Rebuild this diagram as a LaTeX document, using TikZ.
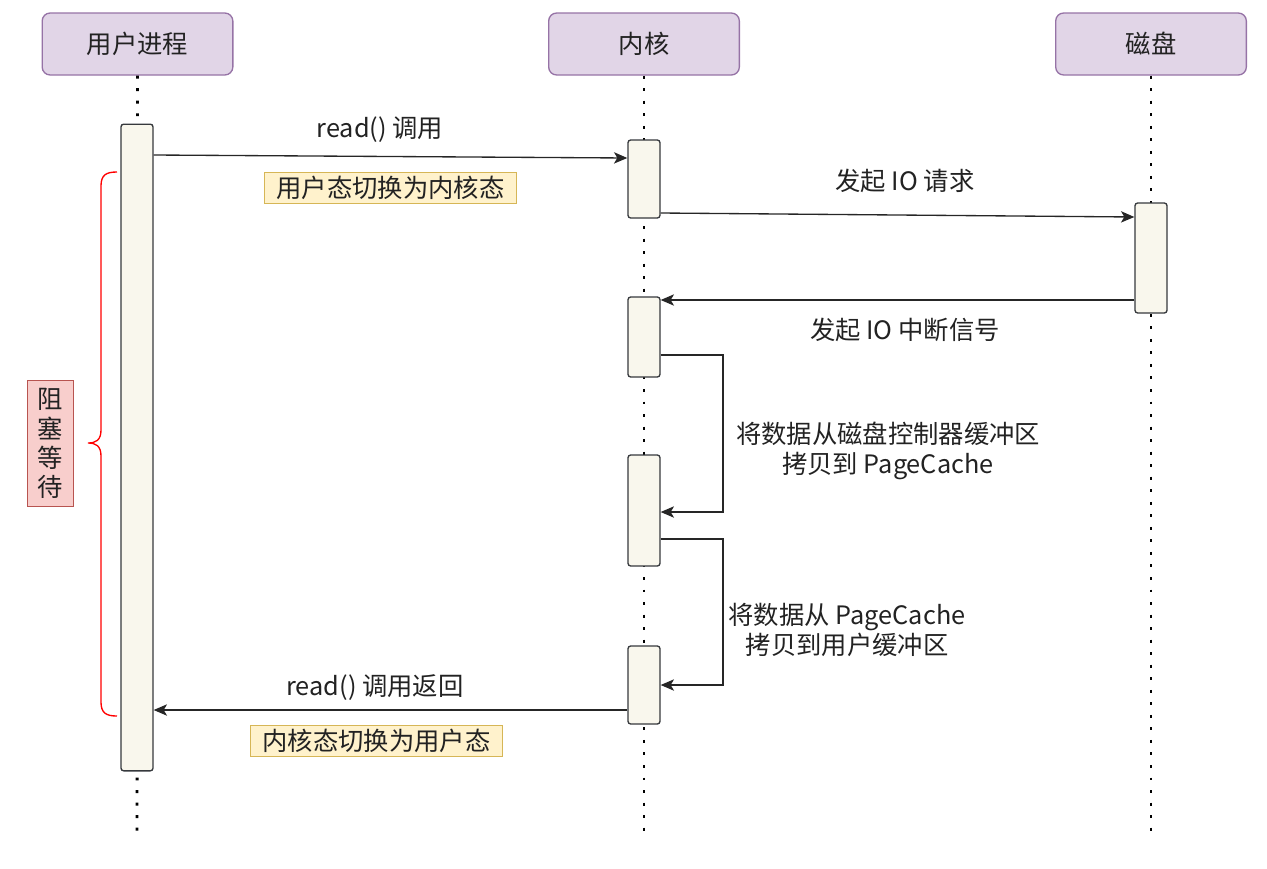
\documentclass[tikz,border=0pt]{standalone}
\usepackage{fontspec}
\setmainfont{Noto Sans CJK SC}
\usetikzlibrary{arrows.meta}

\definecolor{headfill}{RGB}{225,213,231}
\definecolor{headdraw}{RGB}{150,115,166}
\definecolor{barfill}{RGB}{249,247,237}
\definecolor{bardraw}{RGB}{54,57,61}
\definecolor{notefill}{RGB}{255,242,204}
\definecolor{notedraw}{RGB}{214,182,86}
\definecolor{waitfill}{RGB}{248,206,204}
\definecolor{waitdraw}{RGB}{184,84,80}
\definecolor{txt}{RGB}{34,34,34}

\tikzset{every picture/.style={line width=0.75pt}}
\tikzset{
  head/.style={draw=headdraw,fill=headfill,line width=1pt,rounded corners=6pt,minimum width=143pt,minimum height=46.5pt,text=txt},
  actbar/.style={draw=bardraw,fill=barfill,line width=1pt,rounded corners=2pt,minimum width=24pt,inner sep=0pt},
  lifeline/.style={draw=black,line width=2.2pt,dash pattern=on 2.2pt off 7.2pt},
  msg/.style={draw=black!85,line width=1pt,-{Stealth[length=10pt,width=8.5pt,inset=2.5pt]}},
  note/.style={draw=notedraw,fill=notefill,inner xsep=9pt,inner ysep=3pt,text=txt},
  lbl/.style={text=txt,align=center,inner sep=0.75pt}
}

\begin{document}
\begin{tikzpicture}[x=0.75pt,y=0.75pt,yscale=-1,xscale=1,font=\fontsize{19}{22}\selectfont]
\useasboundingbox (0,0) rectangle (1267,868); %set diagram as 1267 x 868

%Shape: Headers
\node[head] (user) at (137.5,44) {用户进程};
\node[head] (kernel) at (644,44) {内核};
\node[head] (disk) at (1151,44) {磁盘};

%Straight Lines: lifelines
\coordinate (uend) at (137,835);
\coordinate (kend) at (644,835);
\coordinate (dend) at (1151,835);
\draw[lifeline] (user.south) -- (uend);
\draw[lifeline] (kernel.south) -- (kend);
\draw[lifeline] (disk.south) -- (dend);

%Shape: Activation bars
\node[actbar,minimum height=485pt] (ubar) at (137,447.5) {};
\node[actbar,minimum height=58.5pt] (kbarA) at (644,179) {};
\node[actbar,minimum height=82.5pt] (dbar) at (1151,258) {};
\node[actbar,minimum height=60pt] (kbarB) at (644,337) {};
\node[actbar,minimum height=83.25pt] (kbarC) at (644,510.5) {};
\node[actbar,minimum height=58.5pt] (kbarD) at (644,685) {};

%Shape: Brace
\draw[red,line width=1pt] (117,172) .. controls (106,172) and (101,175) .. (101,186) -- (101,430) .. controls (101,440) and (96,443) .. (88,443) .. controls (96,443) and (101,446) .. (101,456) -- (101,702) .. controls (101,713) and (106,716) .. (117,716);

%Shape: Rectangle
\node[draw=waitdraw,fill=waitfill,minimum width=35pt,minimum height=95pt,text=txt,align=center,inner sep=0pt] (wait) at (50.5,443.5) {阻\\塞\\等\\待};

%Straight Lines: messages
\draw[msg] (ubar.east |- 0,155) -- (kbarA.west |- 0,158);
\draw[msg] (kbarA.east |- 0,213) -- (dbar.west |- 0,217);
\draw[msg] (dbar.west |- 0,300) -- (kbarB.east |- 0,300);
\draw[msg] (kbarB.east |- 0,355) -- (723,355) |- (kbarC.east |- 0,512);
\draw[msg] (kbarC.east |- 0,539) -- (723,539) |- (kbarD.east |- 0,685);
\draw[msg] (kbarD.west |- 0,710) -- (ubar.east |- 0,710);

% Text Node
\node[lbl] (callLbl) at (380,130) {read() 调用};
% Text Node
\node[note] (toKernel) at (390.5,188) {用户态切换为内核态};
% Text Node
\node[lbl] (reqLbl) at (905,181) {发起 IO 请求};
% Text Node
\node[lbl] (irqLbl) at (905,330) {发起 IO 中断信号};
% Text Node
\node[lbl] (copyA) at (888,451) {将数据从磁盘控制器缓冲区\\拷贝到 PageCache};
% Text Node
\node[lbl] (copyB) at (847,630) {将数据从 PageCache\\拷贝到用户缓冲区};
% Text Node
\node[lbl] (retLbl) at (375,688) {read() 调用返回};
% Text Node
\node[note] (toUser) at (376.5,741) {内核态切换为用户态};

\end{tikzpicture}
\end{document}
